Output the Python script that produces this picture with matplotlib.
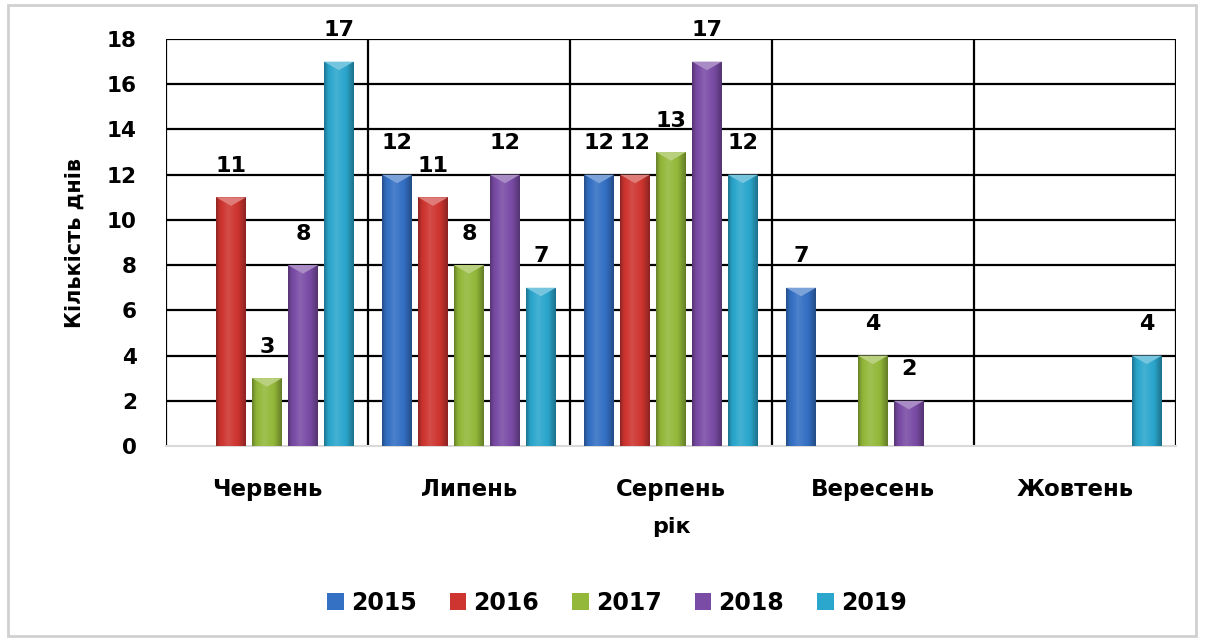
import numpy as np
import matplotlib
matplotlib.use("Agg")
import matplotlib.pyplot as plt
from matplotlib.patches import Rectangle, Polygon
from matplotlib.colors import to_rgb

months = ["Червень", "Липень", "Серпень", "Вересень", "Жовтень"]
years = ["2015", "2016", "2017", "2018", "2019"]
v2015 = [0, 12, 12, 7, 0]
v2016 = [11, 11, 12, 0, 0]
v2017 = [3, 8, 13, 4, 0]
v2018 = [8, 12, 17, 2, 0]
v2019 = [17, 7, 12, 0, 4]
series = [v2015, v2016, v2017, v2018, v2019]
colors = ["#3470C4", "#CE3530", "#93B83A", "#7A4CA6", "#2BA6CC"]

plt.rcParams["font.family"] = ["DejaVu Sans"]
plt.rcParams["font.weight"] = "bold"

W, H = 1213, 641
fig = plt.figure(figsize=(W / 100, H / 100), dpi=100)
fig.patch.set_facecolor("white")
# outer chart frame
fig.patches.append(Rectangle((8 / W, 5 / H), 1188 / W, 631 / H,
                             transform=fig.transFigure, fill=False,
                             edgecolor="#D0D0D0", lw=2.0, zorder=0))

ax = fig.add_axes([166 / W, 1 - 446 / H, 1010 / W, 407 / H])
ax.set_xlim(-0.5, len(months) - 0.5)
ax.set_ylim(0, 18)
ax.set_yticks(range(0, 19, 2))
ax.tick_params(axis="y", length=0, pad=21, labelsize=15.5)
ax.tick_params(axis="x", length=0, pad=23, labelsize=16.5)
ax.set_xticks(range(len(months)))
ax.set_xticklabels(months)
for lbl in ax.get_xticklabels() + ax.get_yticklabels():
    lbl.set_fontweight("bold")

for s in ["top", "right", "left"]:
    ax.spines[s].set_visible(False)
ax.spines["bottom"].set_color("#D9D9D9")
ax.spines["bottom"].set_linewidth(1.5)

# horizontal gridlines and category separators
for yv in range(2, 19, 2):
    ax.axhline(yv, color="black", lw=1.6, zorder=1)
for xv in np.arange(-0.5, len(months), 1.0):
    ax.axvline(xv, color="black", lw=1.6, zorder=1)

step = 0.178
width = 0.148
x = np.arange(len(months))


def shade(c, f):
    r = np.array(to_rgb(c))
    if f >= 0:
        return r + (1 - r) * f
    return r * (1 + f)


for i, (vals, col) in enumerate(zip(series, colors)):
    pos = x + (i - 2) * step
    bars = ax.bar(pos, vals, width, color=col, zorder=2, label=years[i])
    for b, v in zip(bars, vals):
        if v <= 0:
            continue
        x0 = b.get_x()
        w = b.get_width()
        t = np.linspace(0, 1, 64)
        prof = np.interp(t, [0, 0.12, 0.4, 0.75, 1], [-0.3, -0.05, 0.12, -0.02, -0.32])
        img = np.array([[shade(col, f) for f in prof]])
        im = ax.imshow(img, extent=(x0, x0 + w, 0, v), aspect="auto",
                       interpolation="bilinear", zorder=3)
        im.set_clip_path(b)
        cap = 0.38
        tri = Polygon([(x0, v), (x0 + w, v), (x0 + w / 2, v - cap)], closed=True,
                      facecolor=shade(col, 0.35), edgecolor="none", zorder=4)
        ax.add_patch(tri)
        ax.text(x0 + w / 2, v + 0.95, f"{v:g}", ha="center", va="bottom",
                fontsize=16, fontweight="bold", zorder=5, clip_on=False)

ax.set_xlim(-0.5, len(months) - 0.5)
ax.set_ylim(0, 18)

ax.set_ylabel("Кількість днів", fontsize=15, fontweight="bold")
ax.yaxis.set_label_coords(-0.081, 0.5)
fig.text(671 / W, 1 - 527 / H, "рік", ha="center", va="center",
         fontsize=16, fontweight="bold")

handles = [Rectangle((0, 0), 1, 1, facecolor=c) for c in colors]
leg = fig.legend(handles, years, loc="center", bbox_to_anchor=(617 / W, 1 - 603 / H),
                 ncol=5, frameon=False, handlelength=0.7,
                 handleheight=0.7, columnspacing=1.4, handletextpad=0.3,
                 prop={"weight": "bold", "size": 17})

fig.savefig("out.png", dpi=100, facecolor="white")
